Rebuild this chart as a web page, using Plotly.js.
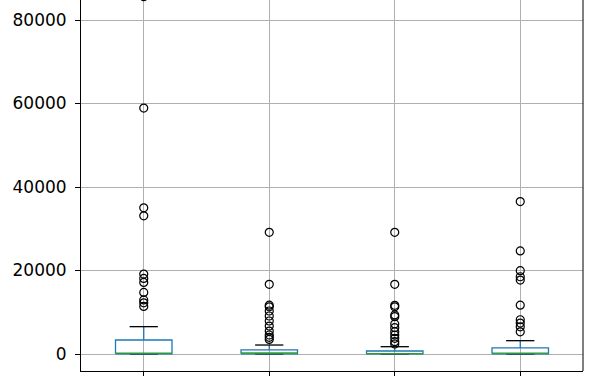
<!DOCTYPE html>
<html>
<head>
<meta charset="utf-8">
<script src="https://cdn.plot.ly/plotly-3.0.1.min.js"></script>
<style>html,body{margin:0;padding:0;background:#fff;}#chart{width:598px;height:376px;}</style>
</head>
<body>
<div id="chart"></div>
<script>
// Box positions (pandas column order)
const categories = [1, 2, 3, 4];
const tickLabels = ['1', '2', '3', '4'];
const yTicks = [0, 20000, 40000, 60000, 80000];

// Summary statistics
const whiskerLow = [0, 0, 0, 0];
const q1 = [60, 50, 20, 50];
const medians = [200, 240, 100, 200];
const q3 = [3350, 1000, 720, 1450];
const whiskerHigh = [6550, 2150, 1750, 3190];

// Outliers (fliers) for each box
const fliers1 = [85600, 58900, 35000, 33100, 19150, 18100, 17150, 14750, 12950, 12250, 11400];
const fliers2 = [29150, 16700, 11700, 11300, 10300, 9100, 7900, 6700, 5500, 4550, 4000, 3500];
const fliers3 = [29150, 16700, 11650, 11300, 9350, 8950, 7200, 6300, 5350, 4550, 3750, 2950, 2400];
const fliers4 = [36500, 24700, 19950, 18500, 17700, 11700, 8200, 7400, 6500, 5300];
const fliers = [fliers1, fliers2, fliers3, fliers4];

const boxHalf = 0.225;   // box width 0.45
const capHalf = 0.1125;  // caps half of box width

const boxX = [], boxY = [], wX = [], wY = [], cX = [], cY = [], mX = [], mY = [];
const fX = [], fY = [];
categories.forEach((c, i) => {
  boxX.push(c - boxHalf, c + boxHalf, c + boxHalf, c - boxHalf, c - boxHalf, null);
  boxY.push(q1[i], q1[i], q3[i], q3[i], q1[i], null);
  wX.push(c, c, null, c, c, null);
  wY.push(q1[i], whiskerLow[i], null, q3[i], whiskerHigh[i], null);
  cX.push(c - capHalf, c + capHalf, null, c - capHalf, c + capHalf, null);
  cY.push(whiskerLow[i], whiskerLow[i], null, whiskerHigh[i], whiskerHigh[i], null);
  mX.push(c - boxHalf, c + boxHalf, null);
  mY.push(medians[i], medians[i], null);
  fliers[i].forEach(v => { fX.push(c); fY.push(v); });
});

const lw = 1.3;
const traces = [
  {x: wX, y: wY, mode: 'lines', line: {color: '#1f77b4', width: lw}, hoverinfo: 'skip'},
  {x: cX, y: cY, mode: 'lines', line: {color: '#000000', width: lw}, hoverinfo: 'skip'},
  {x: boxX, y: boxY, mode: 'lines', line: {color: '#1f77b4', width: lw}, hoverinfo: 'skip'},
  {x: mX, y: mY, mode: 'lines', line: {color: '#2ca02c', width: lw}, hoverinfo: 'skip'},
  {x: fX, y: fY, mode: 'markers', marker: {symbol: 'circle-open', size: 8, color: '#000000', line: {width: 1.2}}, hoverinfo: 'y'}
];

const layout = {
  width: 598, height: 376,
  margin: {l: 81, r: 15, t: 0, b: 5, pad: 0},
  paper_bgcolor: '#ffffff', plot_bgcolor: '#ffffff',
  showlegend: false,
  font: {family: 'DejaVu Sans', size: 17, color: '#000000'},
  xaxis: {
    range: [0.5, 4.5], tickvals: categories, ticktext: tickLabels,
    showticklabels: false, ticks: 'outside', ticklen: 5, tickwidth: 1, tickcolor: '#000',
    showgrid: true, gridcolor: '#b0b0b0', gridwidth: 1,
    showline: true, linecolor: '#000', linewidth: 1, zeroline: false
  },
  yaxis: {
    range: [-4072, 84790], tickvals: yTicks, ticktext: yTicks.map(String),
    ticks: 'outside', ticklen: 5, tickwidth: 1, tickcolor: '#000', ticklabelstandoff: 5,
    showgrid: true, gridcolor: '#b0b0b0', gridwidth: 1,
    showline: true, linecolor: '#000', linewidth: 1, zeroline: false
  },
  shapes: [
    {type: 'line', xref: 'paper', yref: 'paper', x0: 1, x1: 1, y0: 0, y1: 1, line: {color: '#000', width: 1}}
  ]
};

Plotly.newPlot('chart', traces, layout, {displayModeBar: false, staticPlot: true});
</script>
</body>
</html>
